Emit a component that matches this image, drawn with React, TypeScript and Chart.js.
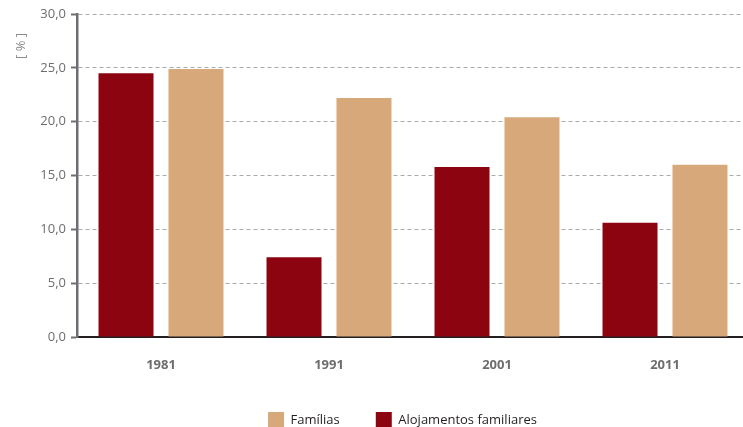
import React, { useEffect, useRef } from "react";
import { Chart, registerables } from "chart.js";

Chart.register(...registerables);

const categories = ["1981", "1991", "2001", "2011"];
const alojamentos = [24.5, 7.4, 15.8, 10.6];
const familias = [24.9, 22.2, 20.4, 16.0];
const yTicks = [0, 5, 10, 15, 20, 25, 30];
const yTitle = "[ % ]";

const FONT = "'Open Sans', sans-serif";

const yTitlePlugin = {
  id: "yTitlePlugin",
  afterLayout(chart: any) {
    const lg = chart.legend;
    if (lg) {
      lg.left += 28;
      lg.right += 28;
    }
  },
  afterDraw(chart: any) {
    const { ctx, chartArea } = chart;
    ctx.save();
    ctx.translate(chartArea.left - 56, chartArea.top + 32);
    ctx.rotate(-Math.PI / 2);
    ctx.font = `13px ${FONT}`;
    ctx.fillStyle = "#8a8a8a";
    ctx.textAlign = "center";
    ctx.textBaseline = "middle";
    ctx.fillText(yTitle, 0, 0);
    ctx.restore();
  },
};

export default function App() {
  const ref = useRef<HTMLCanvasElement | null>(null);
  useEffect(() => {
    if (!ref.current) return;
    const chart = new Chart(ref.current, {
      type: "bar",
      data: {
        labels: categories,
        datasets: [
          {
            label: "Alojamentos familiares",
            data: alojamentos,
            backgroundColor: "#8c0410",
            borderWidth: 0,
            categoryPercentage: 0.833,
            barPercentage: 0.786,
          },
          {
            label: "Famílias",
            data: familias,
            backgroundColor: "#d6a87a",
            borderWidth: 0,
            categoryPercentage: 0.833,
            barPercentage: 0.786,
          },
        ],
      },
      options: {
        responsive: false,
        animation: false,
        layout: { padding: { left: 0, top: 14, right: 0, bottom: 0 } },
        plugins: {
          tooltip: { enabled: false },
          legend: {
            position: "bottom",
            reverse: true,
            labels: {
              boxWidth: 16,
              boxHeight: 16,
              padding: 36,
              color: "#231f20",
              font: { family: FONT, size: 13 },
            },
          },
        },
        scales: {
          x: {
            grid: { display: false, drawTicks: false },
            border: { display: true, color: "#231f20", width: 2 },
            ticks: {
              color: "#6d6d6d",
              padding: 20,
              font: { family: FONT, size: 13, weight: "bold" },
            },
            afterFit(scale: any) {
              scale.height = 39;
            },
          },
          y: {
            min: 0,
            max: 30,
            afterBuildTicks(scale: any) {
              scale.ticks = yTicks.map((v) => ({ value: v }));
            },
            ticks: {
              color: "#6d6d6d",
              padding: 5,
              font: { family: FONT, size: 13 },
              callback: (v: any) => Number(v).toFixed(1).replace(".", ","),
            },
            grid: {
              color: "#aaaaaa",
              lineWidth: 1,
              drawTicks: true,
              tickLength: 6,
              tickColor: "#6e6e73",
              tickWidth: 2,
              tickBorderDash: [],
            },
            border: { display: true, color: "#6e6e73", width: 2.5, dash: [4, 3] },
            afterFit(scale: any) {
              scale.width = 77;
            },
          },
        },
      },
      plugins: [yTitlePlugin],
    } as any);
    return () => chart.destroy();
  }, []);
  return (
    <div
      style={{
        position: "fixed",
        left: 0,
        top: 0,
        width: 743,
        height: 427,
        overflow: "hidden",
        background: "#fff",
      }}
    >
      <canvas ref={ref} width={749} height={438} style={{ display: "block" }} />
    </div>
  );
}
